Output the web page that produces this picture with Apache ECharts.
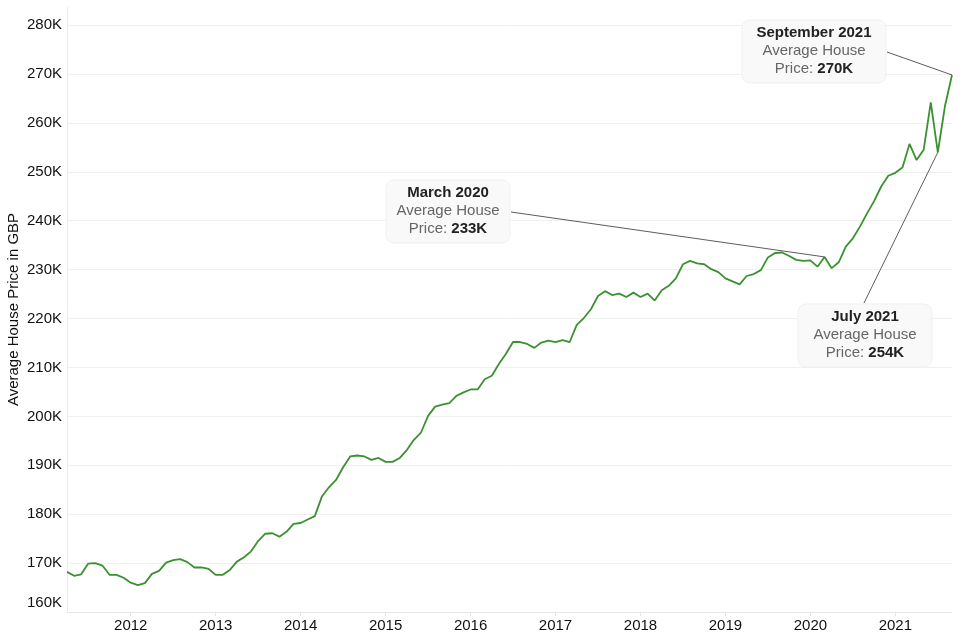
<!DOCTYPE html>
<html>
<head>
<meta charset="utf-8">
<script src="https://cdn.jsdelivr.net/npm/echarts@6/dist/echarts.min.js"></script>
<style>
html,body{margin:0;padding:0;background:#fff;}
#chart{width:960px;height:640px;}
</style>
</head>
<body>
<div id="chart"></div>
<script>
// Average house price, thousands of GBP, monthly from April 2011 to September 2021
const startYear = 2011, startMonth = 4;
const prices2011 = [168.2, 167.4, 167.7, 169.9, 170.0, 169.5, 167.6, 167.6, 167.0];
const prices2012 = [166.0, 165.5, 165.9, 167.8, 168.4, 170.1, 170.6, 170.8, 170.2, 169.1, 169.1, 168.8];
const prices2013 = [167.6, 167.6, 168.6, 170.3, 171.2, 172.4, 174.5, 176.0, 176.1, 175.4, 176.4, 178.0];
const prices2014 = [178.2, 178.9, 179.6, 183.6, 185.5, 187.0, 189.6, 191.8, 192.0, 191.8, 191.1, 191.5];
const prices2015 = [190.7, 190.7, 191.5, 193.1, 195.2, 196.7, 200.1, 202.0, 202.4, 202.7, 204.2, 204.9];
const prices2016 = [205.5, 205.5, 207.6, 208.3, 210.7, 212.8, 215.2, 215.2, 214.8, 214.0, 215.1, 215.5];
const prices2017 = [215.2, 215.6, 215.2, 218.7, 220.1, 221.9, 224.6, 225.6, 224.8, 225.1, 224.4, 225.3];
const prices2018 = [224.4, 225.1, 223.7, 225.8, 226.7, 228.2, 231.1, 231.8, 231.3, 231.1, 230.1, 229.5];
const prices2019 = [228.2, 227.6, 227.0, 228.7, 229.1, 229.9, 232.5, 233.4, 233.5, 232.8, 232.0, 231.8];
const prices2020 = [231.9, 230.6, 232.6, 230.3, 231.5, 234.7, 236.4, 238.8, 241.5, 244.0, 247.0, 249.2];
const prices2021 = [249.8, 250.9, 255.7, 252.4, 254.5, 264.2, 254.0, 263.4, 269.8];

const prices = [].concat(prices2011, prices2012, prices2013, prices2014, prices2015,
  prices2016, prices2017, prices2018, prices2019, prices2020, prices2021);

const monthNames = ['January','February','March','April','May','June','July','August','September','October','November','December'];
const categories = [];
for (let i = 0; i < prices.length; i++) {
  const m0 = startMonth - 1 + i;
  const y = startYear + Math.floor(m0 / 12);
  const m = (m0 % 12) + 1;
  categories.push(y + '-' + (m < 10 ? '0' + m : m));
}

const yTicks = [160, 170, 180, 190, 200, 210, 220, 230, 240, 250, 260, 270, 280];
const axisTitle = 'Average House Price in GBP';

// annotations: which month, box layout
const annotations = [
  { key: '2020-03', box: [386, 180, 124, 63], from: [511, 212] },
  { key: '2021-09', box: [742, 20, 144, 63], from: [887, 52] },
  { key: '2021-07', box: [798, 304, 134, 63], from: [864, 303] }
];

const FONT = '"Liberation Sans", Arial, sans-serif';
const chart = echarts.init(document.getElementById('chart'), null, { renderer: 'canvas' });

chart.setOption({
  animation: false,
  backgroundColor: '#ffffff',
  grid: { left: 67, right: 8, top: 7, bottom: 28, containLabel: false, outerBoundsMode: 'none' },
  xAxis: {
    type: 'category',
    data: categories,
    boundaryGap: false,
    axisLine: { show: true, lineStyle: { color: '#e8e8e8', width: 1 } },
    axisTick: {
      show: true, length: 4,
      interval: function (idx, val) { return val.slice(5) === '01'; },
      lineStyle: { color: '#e4e4e4' }
    },
    axisLabel: {
      interval: function (idx, val) { return val.slice(5) === '01'; },
      formatter: function (val) { return val.slice(0, 4); },
      color: '#111', fontSize: 15, fontFamily: FONT, margin: 6
    },
    splitLine: { show: false }
  },
  yAxis: {
    type: 'value',
    min: yTicks[0],
    max: 283.7,
    interval: 10,
    name: axisTitle,
    nameLocation: 'middle',
    nameGap: 46,
    nameMoveOverlap: false,
    nameTextStyle: { color: '#111', fontSize: 15, fontFamily: FONT },
    axisLine: { show: true, lineStyle: { color: '#ececec' } },
    axisTick: { show: false },
    axisLabel: {
      color: '#111', fontSize: 15, fontFamily: FONT, margin: 5,
      formatter: function (v) {
        if (yTicks.indexOf(Math.round(v * 10) / 10) < 0) return '';
        if (v === yTicks[0]) return '{lo|' + v + 'K}';
        return v + 'K';
      },
      rich: { lo: { padding: [0, 0, 18, 0], fontSize: 15, fontFamily: FONT, color: '#111' } }
    },
    splitLine: { show: true, showMaxLine: false, showMinLine: false, lineStyle: { color: '#f0f0f0', width: 1 } }
  },
  series: [{
    type: 'line',
    data: prices,
    showSymbol: false,
    symbol: 'none',
    lineStyle: { color: '#3b9130', width: 1.8 },
    itemStyle: { color: '#3b9130' },
    z: 3
  }]
});

// annotation graphics
const graphics = [];
annotations.forEach(function (a) {
  const idx = categories.indexOf(a.key);
  const v = prices[idx];
  const pt = chart.convertToPixel({ seriesIndex: 0 }, [idx, v]);
  const y = parseInt(a.key.slice(0, 4), 10);
  const m = parseInt(a.key.slice(5), 10);
  const title = monthNames[m - 1] + ' ' + y;
  const valText = Math.round(v) + 'K';
  const bx = a.box[0], by = a.box[1], bw = a.box[2], bh = a.box[3];
  graphics.push({
    type: 'line', z: 10,
    shape: { x1: a.from[0], y1: a.from[1], x2: pt[0], y2: pt[1] },
    style: { stroke: '#333', lineWidth: 0.8 }
  });
  graphics.push({
    type: 'rect', z: 11,
    shape: { x: bx, y: by, width: bw, height: bh, r: 8 },
    style: { fill: 'rgba(248,248,248,0.92)', stroke: 'rgba(238,238,238,0.9)', lineWidth: 1 }
  });
  graphics.push({
    type: 'text', z: 12,
    x: bx + bw / 2, y: by + 4,
    style: {
      text: '{t|' + title + '}\n{g|Average House}\n{g|Price: }{v|' + valText + '}',
      align: 'center', verticalAlign: 'top',
      rich: {
        t: { fontSize: 15, fontWeight: 'bold', fill: '#222', color: '#222', lineHeight: 18, fontFamily: FONT },
        g: { fontSize: 15, fill: '#666', color: '#666', lineHeight: 18, fontFamily: FONT },
        v: { fontSize: 15, fontWeight: 'bold', fill: '#222', color: '#222', lineHeight: 18, fontFamily: FONT }
      }
    }
  });
});
chart.setOption({ graphic: graphics });
</script>
</body>
</html>
